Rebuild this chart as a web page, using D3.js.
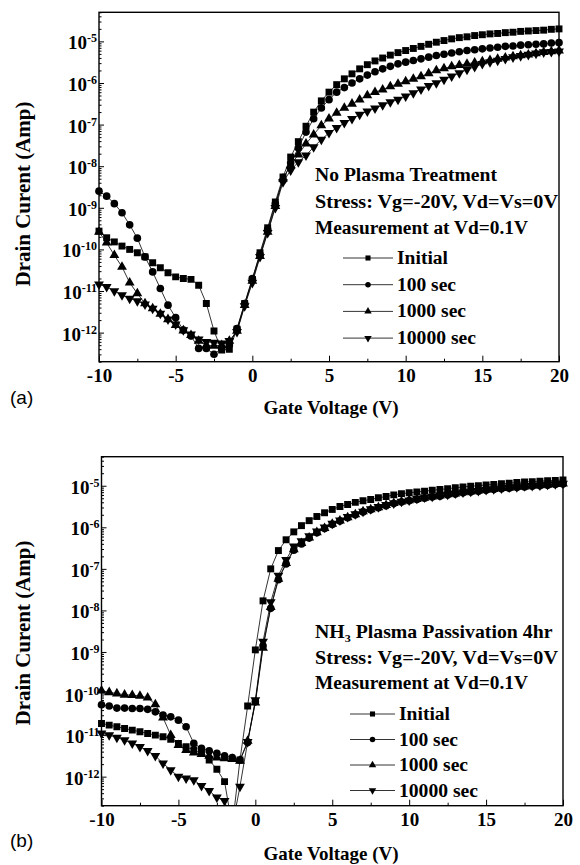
<!DOCTYPE html>
<html>
<head>
<meta charset="utf-8">
<script src="https://cdn.jsdelivr.net/npm/d3@7"></script>
<style>
body{margin:0;background:#fff}
svg{display:block}
text{font-family:'Liberation Serif','Times New Roman',serif;font-weight:bold;fill:#000}
</style>
</head>
<body>
<script>
// gate voltage sweep (V)
const vg = [-10,-9.5,-9,-8.5,-8,-7.5,-7,-6.5,-6,-5.5,
  -5,-4.5,-4,-3.5,-3,-2.5,-2,-1.5,-1,-0.5,
  0,0.5,1,1.5,2,2.5,3,3.5,4,4.5,
  5,5.5,6,6.5,7,7.5,8,8.5,9,9.5,
  10,10.5,11,11.5,12,12.5,13,13.5,14,14.5,
  15,15.5,16,16.5,17,17.5,18,18.5,19,19.5,
  20]

// (a) no plasma treatment, log10 of drain current (A)
const topInitial = [-9.56,-9.72,-9.82,-9.92,-10.0,-10.08,-10.18,-10.32,-10.44,-10.56,
  -10.66,-10.70,-10.72,-10.86,-11.30,-11.96,-12.42,-12.40,-11.92,-11.30,
  -10.72,-10.08,-9.48,-8.86,-8.26,-7.78,-7.41,-7.04,-6.70,-6.43,
  -6.22,-6.04,-5.90,-5.78,-5.66,-5.56,-5.47,-5.40,-5.33,-5.27,
  -5.22,-5.17,-5.12,-5.07,-5.02,-4.98,-4.94,-4.91,-4.89,-4.86,
  -4.84,-4.82,-4.81,-4.79,-4.78,-4.76,-4.75,-4.74,-4.73,-4.71,
  -4.70]
const top100 = [-8.60,-8.72,-8.90,-9.12,-9.41,-9.73,-10.18,-10.54,-10.94,-11.34,
  -11.64,-11.94,-12.08,-12.38,-12.38,-12.52,-12.38,-12.30,-11.90,-11.30,
  -10.70,-10.12,-9.52,-8.90,-8.34,-7.92,-7.56,-7.18,-6.86,-6.60,
  -6.40,-6.22,-6.11,-6.00,-5.90,-5.81,-5.73,-5.66,-5.60,-5.54,
  -5.50,-5.46,-5.42,-5.38,-5.34,-5.31,-5.28,-5.25,-5.22,-5.20,
  -5.18,-5.16,-5.14,-5.12,-5.11,-5.09,-5.08,-5.07,-5.06,-5.04,
  -5.03]
const top1000 = [-9.58,-9.84,-10.14,-10.42,-10.80,-11.06,-11.30,-11.42,-11.55,-11.68,
  -11.82,-11.95,-12.06,-12.20,-12.30,-12.32,-12.30,-12.20,-11.96,-11.34,
  -10.76,-10.16,-9.58,-8.96,-8.30,-7.98,-7.72,-7.46,-7.24,-7.02,
  -6.86,-6.72,-6.60,-6.50,-6.40,-6.30,-6.22,-6.16,-6.08,-6.02,
  -5.96,-5.90,-5.84,-5.77,-5.70,-5.65,-5.60,-5.57,-5.54,-5.51,
  -5.48,-5.45,-5.42,-5.39,-5.36,-5.34,-5.32,-5.29,-5.26,-5.24,
  -5.22]
const top10000 = [-10.84,-10.90,-11.00,-11.10,-11.18,-11.24,-11.32,-11.42,-11.54,-11.68,
  -11.80,-11.94,-12.04,-12.16,-12.22,-12.24,-12.26,-12.20,-11.98,-11.36,
  -10.80,-10.18,-9.60,-9.00,-8.38,-8.10,-7.90,-7.74,-7.54,-7.36,
  -7.20,-7.08,-6.96,-6.86,-6.76,-6.68,-6.61,-6.53,-6.46,-6.40,
  -6.32,-6.24,-6.15,-6.07,-6.00,-5.92,-5.84,-5.76,-5.68,-5.61,
  -5.54,-5.50,-5.46,-5.42,-5.38,-5.35,-5.32,-5.29,-5.26,-5.25,
  -5.24]

// (b) NH3 plasma passivation 4hr
const botInitial = [-10.72,-10.76,-10.80,-10.84,-10.88,-10.92,-10.96,-11.00,-11.04,-11.10,
  -11.20,-11.28,-11.36,-11.44,-11.60,-11.82,-12.12,-13.20,-11.60,-10.30,
  -8.95,-7.77,-7.00,-6.56,-6.30,-6.11,-5.96,-5.84,-5.74,-5.65,
  -5.57,-5.50,-5.45,-5.40,-5.36,-5.33,-5.29,-5.26,-5.22,-5.19,
  -5.17,-5.15,-5.13,-5.11,-5.09,-5.07,-5.05,-5.03,-5.01,-5.00,
  -4.98,-4.97,-4.95,-4.94,-4.92,-4.91,-4.90,-4.89,-4.88,-4.87,
  -4.86]
const bot100 = [-10.27,-10.30,-10.35,-10.35,-10.36,-10.36,-10.38,-10.44,-10.52,-10.56,
  -10.64,-10.80,-11.20,-11.32,-11.38,-11.44,-11.50,-11.54,-11.60,-11.18,
  -10.20,-8.85,-7.95,-7.26,-6.88,-6.55,-6.40,-6.26,-6.13,-6.03,
  -5.93,-5.85,-5.77,-5.70,-5.63,-5.58,-5.53,-5.48,-5.43,-5.39,
  -5.36,-5.33,-5.30,-5.27,-5.25,-5.22,-5.20,-5.17,-5.15,-5.13,
  -5.11,-5.09,-5.07,-5.06,-5.04,-5.03,-5.01,-5.00,-4.99,-4.97,
  -4.96]
const bot1000 = [-9.93,-9.97,-10.00,-10.03,-10.04,-10.06,-10.10,-10.26,-10.58,-11.00,
  -11.24,-11.36,-11.42,-11.46,-11.50,-11.54,-11.56,-11.58,-11.62,-11.14,
  -10.22,-8.90,-7.92,-7.24,-6.86,-6.53,-6.38,-6.25,-6.12,-6.02,
  -5.92,-5.84,-5.76,-5.69,-5.62,-5.57,-5.52,-5.47,-5.42,-5.38,
  -5.35,-5.32,-5.29,-5.26,-5.24,-5.21,-5.19,-5.16,-5.14,-5.12,
  -5.10,-5.08,-5.06,-5.05,-5.03,-5.02,-5.00,-4.99,-4.98,-4.96,
  -4.95]
const bot10000 = [-10.96,-11.00,-11.06,-11.12,-11.20,-11.28,-11.38,-11.50,-11.68,-11.84,
  -12.00,-12.04,-12.08,-12.22,-12.34,-12.50,-12.58,-13.20,-12.24,-11.16,
  -10.16,-8.75,-7.80,-7.16,-6.78,-6.46,-6.33,-6.21,-6.10,-6.00,
  -5.91,-5.83,-5.75,-5.68,-5.62,-5.56,-5.51,-5.46,-5.42,-5.38,
  -5.35,-5.31,-5.28,-5.26,-5.23,-5.21,-5.18,-5.16,-5.14,-5.12,
  -5.10,-5.08,-5.06,-5.04,-5.03,-5.01,-5.00,-4.99,-4.97,-4.96,
  -4.95]

const seriesNames = ['Initial','100 sec','1000 sec','10000 sec']
const yTickExp = [-5,-6,-7,-8,-9,-10,-11,-12]
const xTickMajor = [-10,-5,0,5,10,15,20]
const xTickMinor = [-7.5,-2.5,2.5,7.5,12.5,17.5]
const yDomain = [2e-13,5e-5]
const xDomain = [-10,20]

const W = 580, H = 865
const svg = d3.select('body').append('svg').attr('width',W).attr('height',H).style('background','#fff')

//square, circle, up triangle, down triangle
const symTypes = [d3.symbolSquare,d3.symbolCircle,d3.symbolTriangle,d3.symbolTriangle]
const symRot = [0,0,0,180]
const symSize = [48,46,42,42]
const legSize = [26,24,24,24]

const panels = [
  {tag:'(a)',left:99,right:559,top:12.3,bottom:361.7,
   data:[topInitial,top100,top1000,top10000],
   notes:[['No Plasma Treatment',182,181],['Stress: Vg=-20V, Vd=Vs=0V',243,208],['Measurement at Vd=0.1V',213,234]],
   noteX:315,legX1:343,legX2:393,legY:258,legStep:26.7,yLabelY:194,xLabelY:414,tagY:404},
  {tag:'(b)',left:101.5,right:563,top:456.7,bottom:805.7,
   data:[botInitial,bot100,bot1000,bot10000],
   notes:[['NH3',235,638],['Stress: Vg=-20V, Vd=Vs=0V',243,664],['Measurement at Vd=0.1V',213,689]],
   noteX:315,legX1:350,legX2:395,legY:714,legStep:25.5,yLabelY:633,xLabelY:860,tagY:847}
]

panels.forEach((p,pi)=>{
  const x = d3.scaleLinear().domain(xDomain).range([p.left,p.right])
  const y = d3.scaleLog().domain(yDomain).range([p.bottom,p.top])
  const g = svg.append('g')

  //ticks inside the frame
  const minorY = y.ticks().filter(v=>Math.abs(Math.log10(v)-Math.round(Math.log10(v)))>1e-6)
  g.append('g').attr('transform','translate('+p.left+',0)')
    .call(d3.axisLeft(y).tickValues(yTickExp.map(e=>Math.pow(10,e))).tickSize(-5).tickSizeOuter(0).tickFormat(''))
  g.append('g').attr('transform','translate('+p.left+',0)')
    .call(d3.axisLeft(y).tickValues(minorY).tickSize(-2.5).tickSizeOuter(0).tickFormat(''))
  const xa = g.append('g').attr('transform','translate(0,'+p.bottom+')')
    .call(d3.axisBottom(x).tickValues(xTickMajor).tickSize(-6).tickSizeOuter(0).tickPadding(5).tickFormat(d=>d))
  g.append('g').attr('transform','translate(0,'+p.bottom+')')
    .call(d3.axisBottom(x).tickValues(xTickMinor).tickSize(-3).tickSizeOuter(0).tickFormat(''))
  g.selectAll('.domain').remove()
  g.selectAll('.tick line').attr('stroke','#000').attr('stroke-width',1)
  xa.selectAll('.tick text').attr('font-family',null).attr('font-size',19).attr('fill','#000')
    .attr('y',20).attr('dy',0)

  //y tick labels 10^n
  yTickExp.forEach(e=>{
    const t = g.append('text').attr('x',p.left-2).attr('y',y(Math.pow(10,e))+8).attr('text-anchor','end').style('font-size','19px')
    t.append('tspan').text('10')
    t.append('tspan').attr('dy',-7).style('font-size','12px').text(e)
  })

  g.append('rect').attr('x',p.left).attr('y',p.top).attr('width',p.right-p.left).attr('height',p.bottom-p.top)
    .attr('fill','none').attr('stroke','#000').attr('stroke-width',1.4)

  //clip below the x axis
  svg.append('clipPath').attr('id','clip'+pi).append('rect')
    .attr('x',p.left-20).attr('y',p.top-20).attr('width',p.right-p.left+40).attr('height',p.bottom-p.top+20)
  const plot = g.append('g').attr('clip-path','url(#clip'+pi+')')
  const line = d3.line().x((d,i)=>x(vg[i])).y(d=>y(Math.pow(10,d)))
  p.data.forEach(s=>{
    plot.append('path').attr('d',line(s)).attr('fill','none').attr('stroke','#000').attr('stroke-width',0.8)
  })
  p.data.forEach((s,k)=>{
    plot.selectAll('.m'+k).data(s).enter().append('path').attr('class','m'+k)
      .attr('d',d3.symbol().type(symTypes[k]).size(symSize[k]))
      .attr('transform',(d,i)=>'translate('+x(vg[i])+','+y(Math.pow(10,d))+') rotate('+symRot[k]+')')
      .attr('fill','#000')
  })

  //axis titles
  g.append('text').attr('transform','translate(30,'+p.yLabelY+') rotate(-90)').attr('text-anchor','middle')
    .style('font-size','20px').attr('textLength',185).attr('lengthAdjust','spacingAndGlyphs').text('Drain Curent (Amp)')
  g.append('text').attr('x',331).attr('y',p.xLabelY).attr('text-anchor','middle').style('font-size','19px').text('Gate Voltage (V)')
  g.append('text').attr('x',10).attr('y',p.tagY).style('font-family','Liberation Sans, Arial, sans-serif')
    .style('font-weight','normal').style('font-size','19px').text(p.tag)

  //annotation
  p.notes.forEach(n=>{
    if(n[0]=='NH3'){
      const t = g.append('text').attr('transform','translate('+p.noteX+','+n[2]+') scale(1.1,1)').style('font-size','18px')
      t.append('tspan').text('NH')
      t.append('tspan').attr('dy',4).style('font-size','11px').text('3')
      t.append('tspan').attr('dy',-4).text(' Plasma Passivation 4hr')
    }else{
      g.append('text').attr('x',p.noteX).attr('y',n[2]).style('font-size','18px')
        .attr('textLength',n[1]).attr('lengthAdjust','spacingAndGlyphs').text(n[0])
    }
  })

  //legend
  const legW = [51,59,69,79]
  seriesNames.forEach((nm,k)=>{
    const ly = p.legY+k*p.legStep
    g.append('line').attr('x1',p.legX1).attr('x2',p.legX2).attr('y1',ly).attr('y2',ly).attr('stroke','#000').attr('stroke-width',0.8)
    g.append('path').attr('d',d3.symbol().type(symTypes[k]).size(legSize[k])())
      .attr('transform','translate('+((p.legX1+p.legX2)/2)+','+ly+') rotate('+symRot[k]+')')
    g.append('text').attr('x',p.legX2+4).attr('y',ly+6).style('font-size','18px')
      .attr('textLength',legW[k]).attr('lengthAdjust','spacingAndGlyphs').text(nm)
  })
})
</script>
</body>
</html>
